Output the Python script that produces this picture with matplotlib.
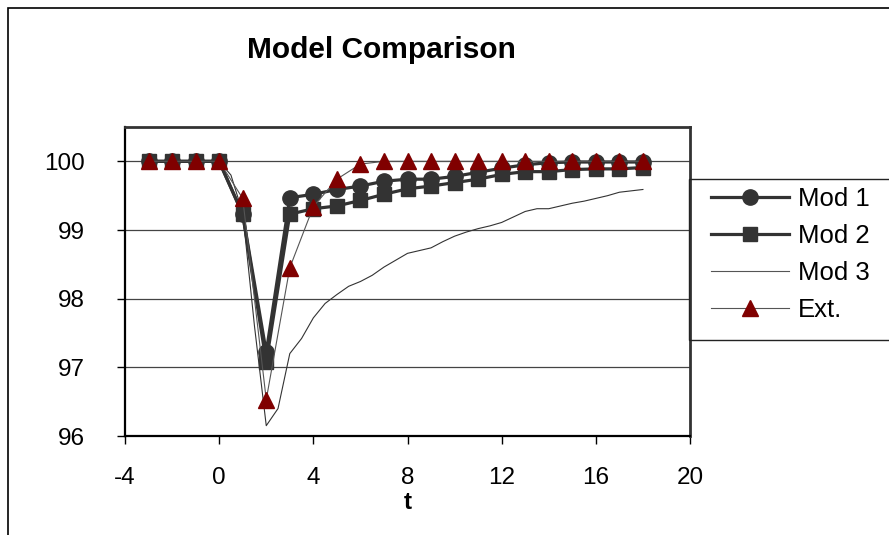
import matplotlib
matplotlib.use("Agg")
import matplotlib.pyplot as plt
from matplotlib.lines import Line2D
from matplotlib.patches import Rectangle

plt.rcParams['font.family'] = ['Liberation Sans', 'DejaVu Sans']

# ---- data ----
t = [-3, -2, -1, 0, 1, 2, 3, 4, 5, 6, 7, 8, 9, 10, 11, 12, 13, 14, 15, 16, 17, 18]
mod1 = [100, 100, 100, 100, 99.23, 97.22, 99.47, 99.52, 99.59, 99.64, 99.71, 99.74,
        99.74, 99.78, 99.84, 99.90, 99.95, 99.98, 99.99, 99.99, 99.99, 99.99]
mod2 = [100, 100, 100, 100, 99.23, 97.08, 99.23, 99.31, 99.35, 99.43, 99.52, 99.60,
        99.64, 99.69, 99.74, 99.81, 99.85, 99.85, 99.88, 99.89, 99.89, 99.91]
ext = [100, 100, 100, 100, 99.46, 96.53, 98.45, 99.34, 99.74, 99.96, 100, 100,
       100, 100, 100, 100, 100, 100, 100, 100, 100, 100]
t3 = [-3, -2, -1, 0, 0.5, 1, 1.5, 2, 2.5, 3, 3.5, 4, 4.5, 5, 5.5, 6, 6.5, 7, 7.5, 8,
      8.5, 9, 9.5, 10, 10.5, 11, 11.5, 12, 12.5, 13, 13.5, 14, 14.5, 15, 15.5, 16,
      16.5, 17, 17.5, 18]
mod3 = [100, 100, 100, 100, 99.8, 99.25, 97.6, 96.15, 96.4, 97.2, 97.42, 97.72,
        97.93, 98.06, 98.18, 98.25, 98.34, 98.46, 98.56, 98.66, 98.70, 98.74, 98.83,
        98.91, 98.97, 99.02, 99.06, 99.11, 99.19, 99.27, 99.31, 99.31, 99.35, 99.39,
        99.42, 99.46, 99.50, 99.55, 99.57, 99.59]
xticks = [-4, 0, 4, 8, 12, 16, 20]
yticks = [96, 97, 98, 99, 100]
labels = ["Mod 1", "Mod 2", "Mod 3", "Ext."]
title = "Model Comparison"

W, H = 889, 535
fig = plt.figure(figsize=(W / 100, H / 100), dpi=100)
fig.patch.set_facecolor('white')

L, R, T, B = 125, 690, 127, 436
ax = fig.add_axes([L / W, 1 - B / H, (R - L) / W, (B - T) / H])

dark = '#333333'
red = '#800000'

ax.set_xlim(-4, 20)
ax.set_ylim(96, 100.5)
ax.set_xticks(xticks)
ax.set_yticks(yticks)
ax.set_xticklabels([str(v) for v in xticks])
ax.set_yticklabels([str(v) for v in yticks])

for y in yticks[1:]:
    ax.axhline(y, color='#444444', lw=0.9, zorder=1)

l1, = ax.plot(t, mod1, color=dark, lw=2.3, marker='o', ms=11, mfc=dark, mec=dark, zorder=3)
l2, = ax.plot(t, mod2, color=dark, lw=2.3, marker='s', ms=10, mfc=dark, mec=dark, zorder=4)
l3, = ax.plot(t3, mod3, color=dark, lw=0.8, zorder=5)
l4, = ax.plot(t, ext, color='#555555', lw=0.8, marker='^', ms=11, mfc=red, mec=red, zorder=6)

for s in ['left', 'bottom']:
    ax.spines[s].set_linewidth(1.6)
    ax.spines[s].set_color('black')
for s in ['top', 'right']:
    ax.spines[s].set_linewidth(2.0)
    ax.spines[s].set_color(dark)

ax.tick_params(axis='y', direction='out', length=6, width=1, pad=23, labelsize=17.5)
ax.tick_params(axis='x', direction='out', length=6, width=1, pad=16, labelsize=17.5)
ax.set_xlabel('t', fontsize=17.5, fontweight='bold', labelpad=2)

fig.text(381 / W, 1 - 50 / H, title, fontsize=21.5, fontweight='bold', ha='center', va='center')

# figure border (clipped at right/bottom edges like the reference)
fig.patches.append(Rectangle((8 / W, -0.2), 1.5, 1.2 - 8 / H, transform=fig.transFigure,
                             fill=False, ec='black', lw=1.2))
# legend frame
fig.patches.append(Rectangle((689 / W, 1 - 340 / H), 0.5, (340 - 179) / H,
                             transform=fig.transFigure, fill=False, ec='#222222', lw=1.0))

h1 = Line2D([], [], color=dark, lw=2.3, marker='o', ms=11, mfc=dark, mec=dark)
h2 = Line2D([], [], color=dark, lw=2.3, marker='s', ms=10, mfc=dark, mec=dark)
h3 = Line2D([], [], color='#555555', lw=0.8)
h4 = Line2D([], [], color='#555555', lw=0.8, marker='^', ms=11, mfc=red, mec=red)
fig.legend([h1, h2, h3, h4], labels, loc='upper left',
           bbox_to_anchor=(711 / W, 1 - 187 / H), bbox_transform=fig.transFigure,
           frameon=False, fontsize=18.5, handlelength=3.05, handletextpad=0.35,
           labelspacing=0.5, borderpad=0, borderaxespad=0)

fig.savefig('out.png', dpi=100, facecolor='white')
